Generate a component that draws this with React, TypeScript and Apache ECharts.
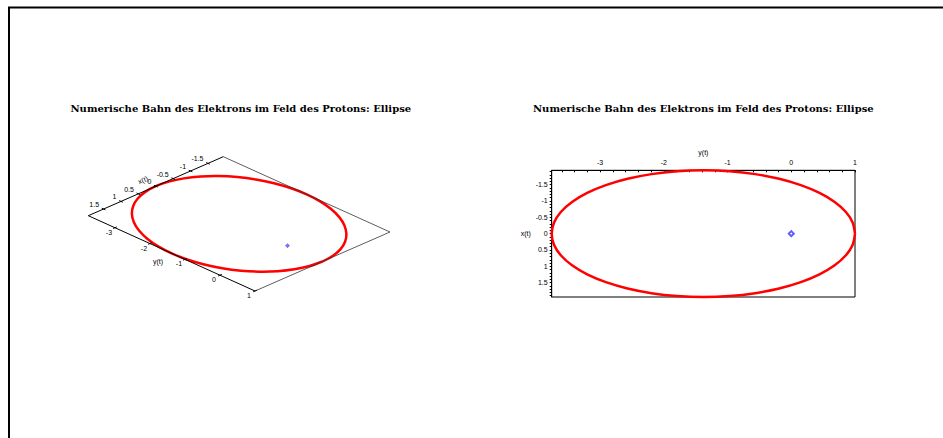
import React, { useEffect, useRef } from "react";
import * as echarts from "echarts";

const TITLE = "Numerische Bahn des Elektrons im Feld des Protons: Ellipse";

// Orbit of the electron: horizontal y(t), vertical x(t)
const orbitY = [1.0, 0.964, 0.857, 0.681, 0.443, 0.15, -0.19, -0.566, -0.967, -1.38, -1.793, -2.194, -2.57, -2.91, -3.203, -3.441, -3.617, -3.724, -3.76, -3.724, -3.617, -3.441, -3.203, -2.91, -2.57, -2.194, -1.793, -1.38, -0.967, -0.566, -0.19, 0.15, 0.443, 0.681, 0.857, 0.964, 1.0];
const orbitX = [0, 0.337, 0.663, 0.97, 1.247, 1.486, 1.68, 1.823, 1.911, 1.94, 1.911, 1.823, 1.68, 1.486, 1.247, 0.97, 0.663, 0.337, 0, -0.337, -0.663, -0.97, -1.247, -1.486, -1.68, -1.823, -1.911, -1.94, -1.911, -1.823, -1.68, -1.486, -1.247, -0.97, -0.663, -0.337, 0];

// Proton position
const protonY = [0];
const protonX = [0];

// Axis ranges
const Y_MIN = -3.76;
const Y_MAX = 1;
const X_MIN = -1.94;
const X_MAX = 1.94;

// Tick labels
const yTickLabels = [-3, -2, -1, 0, 1];
const xTickLabels = [-1.5, -1, -0.5, 0, 0.5, 1, 1.5];

// minor tick positions (decoration)
const yMinorTicks: number[] = [];
for (let k = -18; k <= 5; k++) yMinorTicks.push(k / 5);
const xMinorTicks: number[] = [];
for (let k = -19; k <= 19; k++) xMinorTicks.push(k / 10);

// layout of the projected (left) plot box: corners
const CL = [88.3, 215.7];
const CB = [255, 291];
const CT = [223.3, 156.7];

const TICK_FONT = "Liberation Sans";

function unit(a: number[], b: number[]) {
  const dx = b[0] - a[0];
  const dy = b[1] - a[1];
  const l = Math.sqrt(dx * dx + dy * dy);
  return [dx / l, dy / l];
}

function skew(params: any, api: any, h: number, v: number) {
  const cs = params.coordSys;
  const p = api.coord([h, v]);
  const fu = (p[0] - cs.x) / cs.width;
  const fv = (p[1] - cs.y) / cs.height;
  return [
    CL[0] + fu * (CB[0] - CL[0]) + fv * (CT[0] - CL[0]),
    CL[1] + fu * (CB[1] - CL[1]) + fv * (CT[1] - CL[1]),
  ];
}

function buildOption() {
  const orbit = orbitY.map((y, i) => [y, orbitX[i]]);
  const proton = protonY.map((y, i) => [y, protonX[i]]);
  const nLT = unit(CL, CT);
  const nLB = unit(CL, CB);

  const titleStyle = {
    text: TITLE,
    fontSize: 10,
    fontWeight: "bold",
    fontFamily: "DejaVu Serif",
    fill: "#000",
    align: "center",
    verticalAlign: "middle",
  };

  return {
    animation: false,
    backgroundColor: "#ffffff",
    grid: [
      { left: 100, top: 100, width: 100, height: 100, show: false },
      {
        left: 551.7,
        top: 170.3,
        width: 303.3,
        height: 126.7,
        show: true,
        borderColor: "#000",
        borderWidth: 1,
        backgroundColor: "transparent",
      },
    ],
    xAxis: [
      { gridIndex: 0, type: "value", min: Y_MIN, max: Y_MAX, show: false },
      {
        gridIndex: 1,
        type: "value",
        position: "top",
        min: Y_MIN,
        max: Y_MAX,
        name: "y(t)",
        nameLocation: "middle",
        nameGap: 14,
        nameTextStyle: { fontSize: 7, fontFamily: TICK_FONT, color: "#000" },
        axisLine: { show: true, onZero: false, lineStyle: { color: "#000", width: 1 } },
        axisTick: {
          show: true,
          inside: true,
          length: 2,
          customValues: yMinorTicks,
          lineStyle: { color: "#000", width: 1 },
        },
        axisLabel: {
          show: true,
          customValues: yTickLabels,
          fontSize: 7,
          fontFamily: TICK_FONT,
          color: "#000",
          margin: 4,
        },
        splitLine: { show: false },
      },
    ],
    yAxis: [
      { gridIndex: 0, type: "value", min: X_MIN, max: X_MAX, show: false },
      {
        gridIndex: 1,
        type: "value",
        inverse: true,
        min: X_MIN,
        max: X_MAX,
        name: "x(t)",
        nameLocation: "middle",
        nameRotate: 0,
        nameGap: 14,
        nameTextStyle: { fontSize: 7, fontFamily: TICK_FONT, color: "#000" },
        axisLine: { show: true, onZero: false, lineStyle: { color: "#000", width: 1 } },
        axisTick: {
          show: true,
          inside: false,
          length: 2,
          customValues: xMinorTicks,
          lineStyle: { color: "#000", width: 1 },
        },
        axisLabel: {
          show: true,
          customValues: xTickLabels,
          fontSize: 7,
          fontFamily: TICK_FONT,
          color: "#000",
          margin: 4,
        },
        splitLine: { show: false },
      },
    ],
    graphic: [
      { type: "line", shape: { x1: 8, y1: 7.5, x2: 943, y2: 7.5 }, style: { stroke: "#000", lineWidth: 2 } },
      { type: "line", shape: { x1: 9, y1: 7, x2: 9, y2: 438 }, style: { stroke: "#000", lineWidth: 2 } },
      { type: "text", x: 240.8, y: 108, style: titleStyle },
      { type: "text", x: 703.3, y: 108, style: titleStyle },
      {
        type: "text",
        x: 158,
        y: 261,
        style: { text: "y(t)", fontSize: 7, fontFamily: TICK_FONT, fill: "#000", align: "center", verticalAlign: "middle" },
      },
      {
        type: "text",
        x: 143,
        y: 180,
        rotation: 0.41,
        style: { text: "x(t)", fontSize: 7, fontFamily: TICK_FONT, fill: "#000", align: "center", verticalAlign: "middle" },
      },
    ],
    series: [
      // left: projected orbit
      {
        type: "custom",
        coordinateSystem: "cartesian2d",
        xAxisIndex: 0,
        yAxisIndex: 0,
        clip: false,
        z: 2,
        data: orbit,
        renderItem: (params: any, api: any) => {
          if (params.dataIndex !== 0) return null;
          const pts = orbit.map((d) => skew(params, api, d[0], d[1]));
          return {
            type: "polyline",
            shape: { points: pts, smooth: 0.3 },
            style: { stroke: "#ff0000", lineWidth: 2.5, fill: null },
          };
        },
      },
      // left: box edges
      {
        type: "custom",
        coordinateSystem: "cartesian2d",
        xAxisIndex: 0,
        yAxisIndex: 0,
        clip: false,
        z: 3,
        data: [[Y_MIN, X_MAX]],
        renderItem: (params: any, api: any) => {
          const L = skew(params, api, Y_MIN, X_MAX);
          const B = skew(params, api, Y_MAX, X_MAX);
          const R = skew(params, api, Y_MAX, X_MIN);
          const T = skew(params, api, Y_MIN, X_MIN);
          return {
            type: "group",
            children: [
              { type: "polyline", shape: { points: [T, R, B] }, style: { stroke: "#333", lineWidth: 0.8, fill: null } },
              { type: "polyline", shape: { points: [T, L, B] }, style: { stroke: "#000", lineWidth: 1, fill: null } },
            ],
          };
        },
      },
      // left: y(t) ticks
      {
        type: "custom",
        coordinateSystem: "cartesian2d",
        xAxisIndex: 0,
        yAxisIndex: 0,
        clip: false,
        z: 4,
        data: yTickLabels.map((v) => [v, X_MAX]),
        renderItem: (params: any, api: any) => {
          const h = api.value(0);
          const p = skew(params, api, h, api.value(1));
          return {
            type: "group",
            children: [
              {
                type: "line",
                shape: { x1: p[0] - nLT[0] * 2, y1: p[1] - nLT[1] * 2, x2: p[0] + nLT[0] * 2, y2: p[1] + nLT[1] * 2 },
                style: { stroke: "#000", lineWidth: 1 },
              },
              {
                type: "text",
                x: p[0] - 6,
                y: p[1] + 4.5,
                style: { text: String(h), fontSize: 7, fontFamily: TICK_FONT, fill: "#000", align: "center", verticalAlign: "middle" },
              },
            ],
          };
        },
      },
      // left: x(t) ticks
      {
        type: "custom",
        coordinateSystem: "cartesian2d",
        xAxisIndex: 0,
        yAxisIndex: 0,
        clip: false,
        z: 4,
        data: xTickLabels.map((v) => [Y_MIN, v]),
        renderItem: (params: any, api: any) => {
          const v = api.value(1);
          const p = skew(params, api, api.value(0), v);
          return {
            type: "group",
            children: [
              {
                type: "line",
                shape: { x1: p[0] - nLB[0] * 2, y1: p[1] - nLB[1] * 2, x2: p[0] + nLB[0] * 2, y2: p[1] + nLB[1] * 2 },
                style: { stroke: "#000", lineWidth: 1 },
              },
              {
                type: "text",
                x: p[0] - 4.5,
                y: p[1] - 4.5,
                style: { text: String(v), fontSize: 7, fontFamily: TICK_FONT, fill: "#000", align: "right", verticalAlign: "middle" },
              },
            ],
          };
        },
      },
      // left: proton
      {
        type: "custom",
        coordinateSystem: "cartesian2d",
        xAxisIndex: 0,
        yAxisIndex: 0,
        clip: false,
        z: 5,
        data: proton,
        renderItem: (params: any, api: any) => {
          const p = skew(params, api, api.value(0), api.value(1));
          return {
            type: "polygon",
            shape: { points: [[p[0], p[1] - 2], [p[0] + 2, p[1]], [p[0], p[1] + 2], [p[0] - 2, p[1]]] },
            style: { fill: "#7777ff", stroke: "#3333ff", lineWidth: 0.5 },
          };
        },
      },
      // right: orbit
      {
        type: "line",
        xAxisIndex: 1,
        yAxisIndex: 1,
        data: orbit,
        showSymbol: false,
        smooth: 0.3,
        clip: false,
        lineStyle: { color: "#ff0000", width: 2.5 },
        z: 2,
      },
      // right: proton
      {
        type: "scatter",
        xAxisIndex: 1,
        yAxisIndex: 1,
        data: proton,
        symbol: "emptyDiamond",
        symbolSize: 5,
        itemStyle: { color: "#3333ff", borderWidth: 0.8 },
        z: 3,
      },
    ],
  };
}

export default function App() {
  const ref = useRef<HTMLDivElement>(null);
  useEffect(() => {
    const chart = echarts.init(ref.current!, null, { renderer: "svg" });
    chart.setOption(buildOption() as any);
    return () => chart.dispose();
  }, []);
  return (
    <div
      ref={ref}
      style={{ position: "absolute", left: 0, top: 0, width: 943, height: 438, background: "#fff" }}
    />
  );
}
